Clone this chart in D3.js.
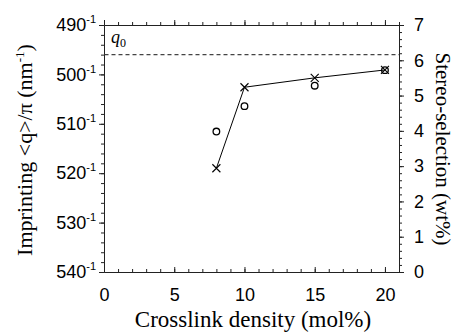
<!DOCTYPE html>
<html lang="en">
<head>
  <meta charset="UTF-8">
  <title>Imprinting vs crosslink density</title>
  <script src="https://d3js.org/d3.v7.min.js"></script>
  <style>
    body { margin: 0; background: #fff; }
    .tick text { font-family: "Liberation Sans", Arial, sans-serif; font-size: 18px; fill: #000; }
    .tick line, .domain { stroke: #222; }
    .title { font-family: "Liberation Serif", "Times New Roman", serif; font-size: 22px; fill: #000; }
  </style>
</head>
<body>
  <div id="chart"></div>
  <script>
  // crosslink density (mol%)
  const crosslink = [8, 10, 15, 20]
  // imprinting pitch, plotted as <q>/pi = pitch^-1 (nm)
  const imprintPitch = [519.0, 502.6, 500.7, 499.1]
  // stereo-selection (wt%)
  const stereo = [3.98, 4.70, 5.28, 5.72]
  const q0Pitch = 496
  const xTicks = [0, 5, 10, 15, 20]
  const leftTicks = [490, 500, 510, 520, 530, 540]
  const rightTicks = [0, 1, 2, 3, 4, 5, 6, 7]

  const width = 455, height = 333
  const svg = d3.select('#chart')
                .append('svg')
                .attr('width', width)
                .attr('height', height)

  const x = d3.scaleLinear().domain([0, 21]).range([104, 399])
  const yL = d3.scaleLinear().domain([490, 540]).range([25, 272])
  const yR = d3.scaleLinear().domain([0, 7]).range([272, 25])

  // minor ticks first
  svg.append('g').attr('transform', 'translate(0,272)')
     .call(d3.axisBottom(x).tickValues(d3.range(0, 22, 1)).tickSize(-3).tickSizeOuter(0).tickFormat(''))
  svg.append('g').attr('transform', 'translate(0,25)')
     .call(d3.axisTop(x).tickValues(d3.range(0, 22, 1)).tickSize(3).tickSizeOuter(0).tickFormat(''))
  svg.append('g').attr('transform', 'translate(104,0)')
     .call(d3.axisLeft(yL).tickValues(d3.range(490, 541, 2)).tickSize(3).tickSizeOuter(0).tickFormat(''))
  svg.append('g').attr('transform', 'translate(399,0)')
     .call(d3.axisRight(yR).tickValues(d3.range(0, 7.01, 0.2)).tickSize(3).tickSizeOuter(0).tickFormat(''))

  // major ticks
  svg.append('g').attr('transform', 'translate(0,272)')
     .call(d3.axisBottom(x).tickValues(xTicks).tickSize(-5).tickSizeOuter(0).tickPadding(16))
  svg.append('g').attr('transform', 'translate(0,25)')
     .call(d3.axisTop(x).tickValues(xTicks).tickSize(5).tickSizeOuter(0).tickFormat(''))
  const leftAxis = svg.append('g').attr('transform', 'translate(104,0)')
     .call(d3.axisLeft(yL).tickValues(leftTicks).tickSize(5).tickSizeOuter(0).tickPadding(3))
  svg.append('g').attr('transform', 'translate(399,0)')
     .call(d3.axisRight(yR).tickValues(rightTicks).tickSize(5).tickSizeOuter(0).tickPadding(10)
       .tickFormat(d3.format('d')))

  // superscript -1 on the pitch labels
  leftAxis.selectAll('.tick text').each(function (d) {
    const t = d3.select(this)
    t.text(null)
    t.append('tspan').text(d)
    t.append('tspan').attr('dy', -8).style('font-size', '11px').text('-1')
  })

  // q0 reference
  svg.append('line')
     .attr('x1', x(0) + 0.5).attr('x2', x(21))
     .attr('y1', yL(q0Pitch)).attr('y2', yL(q0Pitch))
     .attr('stroke', '#444').attr('stroke-width', 1.2)
     .attr('stroke-dasharray', '4,3')
  const q0 = svg.append('text')
     .attr('x', 111).attr('y', 43)
     .style('font-family', '"Liberation Serif", serif')
     .style('font-style', 'italic').style('font-size', '18px')
  q0.append('tspan').text('q')
  q0.append('tspan').attr('dy', 4).style('font-style', 'normal').style('font-size', '12px').text('0')

  // imprinting line + crosses
  const pts = crosslink.map((c, i) => [x(c), yL(imprintPitch[i])])
  svg.append('path')
     .attr('d', d3.line()(pts))
     .attr('fill', 'none').attr('stroke', '#000').attr('stroke-width', 1)
  svg.selectAll('path.cross')
     .data(pts)
     .enter()
     .append('path')
     .attr('class', 'cross')
     .attr('d', d => `M${d[0] - 4},${d[1] - 4}L${d[0] + 4},${d[1] + 4}M${d[0] - 4},${d[1] + 4}L${d[0] + 4},${d[1] - 4}`)
     .attr('stroke', '#000').attr('stroke-width', 1.1)

  // stereo-selection circles
  svg.selectAll('circle')
     .data(crosslink)
     .enter()
     .append('circle')
     .attr('cx', (d) => x(d))
     .attr('cy', (d, i) => yR(stereo[i]))
     .attr('r', 3.3)
     .attr('fill', 'none').attr('stroke', '#000').attr('stroke-width', 1.3)

  // titles
  svg.append('text').attr('class', 'title')
     .attr('x', 253).attr('y', 327)
     .attr('text-anchor', 'middle')
     .style('font-size', '23px')
     .text('Crosslink density (mol%)')
  const lt = svg.append('text').attr('class', 'title')
     .attr('transform', 'translate(32,150) rotate(-90)')
     .attr('text-anchor', 'middle')
  lt.append('tspan').text('Imprinting <q>/\u03c0 (nm')
  lt.append('tspan').attr('dy', -8).style('font-size', '13px').text('-1')
  lt.append('tspan').attr('dy', 8).text(')')
  svg.append('text').attr('class', 'title')
     .attr('transform', 'translate(436,149) rotate(90)')
     .attr('text-anchor', 'middle')
     .style('font-size', '21px')
     .text('Stereo-selection (wt%)')
  </script>
</body>
</html>
